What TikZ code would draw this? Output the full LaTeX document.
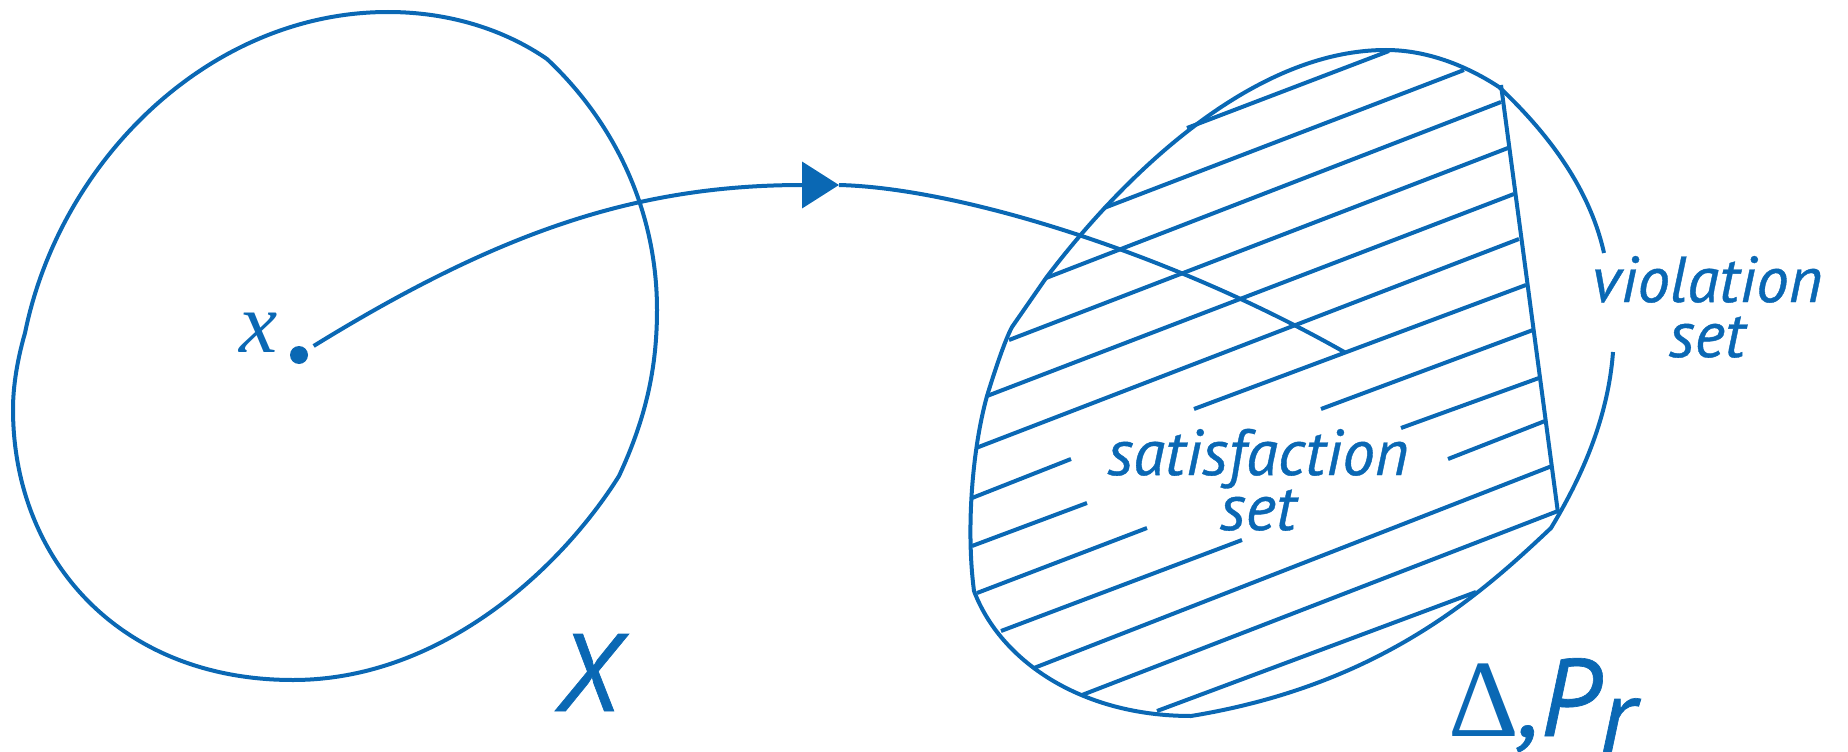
\documentclass[tikz,border=0pt]{standalone}
\usepackage{fontspec}
\usetikzlibrary{arrows.meta}
\newfontfamily\labfont{PT Sans}[ItalicFeatures={FakeBold=0.6}]
\newfontfamily\sfont{Liberation Serif}
\definecolor{diag}{RGB}{10,104,180}
\begin{document}
\begin{tikzpicture}[x=1pt,y=-1pt,
  ln/.style={draw=diag, line width=4pt, line join=round},
  lab/.style={text=diag, inner sep=0pt, align=center, anchor=south, font=\labfont\itshape\fontsize{65}{55}\selectfont},
  big/.style={text=diag, inner sep=0pt, font=\labfont\itshape\fontsize{110}{110}\selectfont},
  dotnode/.style={circle, fill=diag, inner sep=0pt, minimum size=18pt}]
\useasboundingbox (0,0) rectangle (1848,752);

% left region X
\draw[ln] (547,59) .. controls (610,118) and (657,205) .. (657,310)
  .. controls (657,370) and (645,420) .. (619,476)
  .. controls (560,570) and (440,680) .. (293,680)
  .. controls (120,680) and (13,560) .. (13,409)
  .. controls (13,380) and (20,350) .. (25,333)
  .. controls (60,160) and (210,12) .. (388,12)
  .. controls (450,12) and (505,30) .. (547,59) -- cycle;

% right region
\draw[ln] (1613,352) .. controls (1608,420) and (1580,480) .. (1551,528)
  .. controls (1480,595) and (1380,685) .. (1191,716)
  .. controls (1080,716) and (1000,660) .. (974,591)
  .. controls (966,530) and (972,450) .. (987,396)
  .. controls (995,370) and (1005,340) .. (1012,327)
  -- (1046,278)
  .. controls (1120,180) and (1250,50) .. (1386,50)
  .. controls (1430,50) and (1470,68) .. (1499,87)
  .. controls (1550,135) and (1590,190) .. (1604,253);

% boundary between satisfaction and violation sets
\draw[ln] (1501,85) -- (1558,513);

% hatching
\foreach \xa/\ya/\xb/\yb in {
  1187/128/1389/51, 1104/208/1464/70, 1046/278/1501/102, 1009/340/1508/148,
  987/396/1514/194, 976/448/1519/239,
  972/498/1071/459, 1194/409/1526/285,
  972/546/1087/503, 1321/409/1533/330,
  977/593/1147/528, 1401/428/1539/378,
  1001/631/1242/540, 1448/459/1545/421,
  1034/668/1552/466, 1082/695/1558/511, 1157/711/1476/592}
  \draw[ln] (\xa,\ya) -- (\xb,\yb);

% point x and the mapping
\node[dotnode] (xpt) at (299,355) {};
\node[text=diag, inner sep=0pt, anchor=base, font=\sfont\itshape\fontsize{86}{86}\selectfont] (xlab) at (259,352) {x};
\coordinate (mid) at (839,185);
\coordinate (tgt) at (1346,353);
\draw[ln, shorten <=8pt, -{Triangle[length=37pt,width=46pt]}] (xpt) .. controls (502,230) and (639,185) .. (mid);
\draw[ln] (mid) .. controls (960,188) and (1172,254) .. (tgt);

% labels
\node[lab] (sat) at (1258,531) {satisfaction\\set};
\node[lab] (vio) at (1707,358) {violation\\set};
\node[big, anchor=base] (X) at (588,711) {X};
\node[big, anchor=base west] (D) at (1448,736) {{\sfont\upshape Δ},P\raisebox{-18pt}{r}};
\end{tikzpicture}
\end{document}
